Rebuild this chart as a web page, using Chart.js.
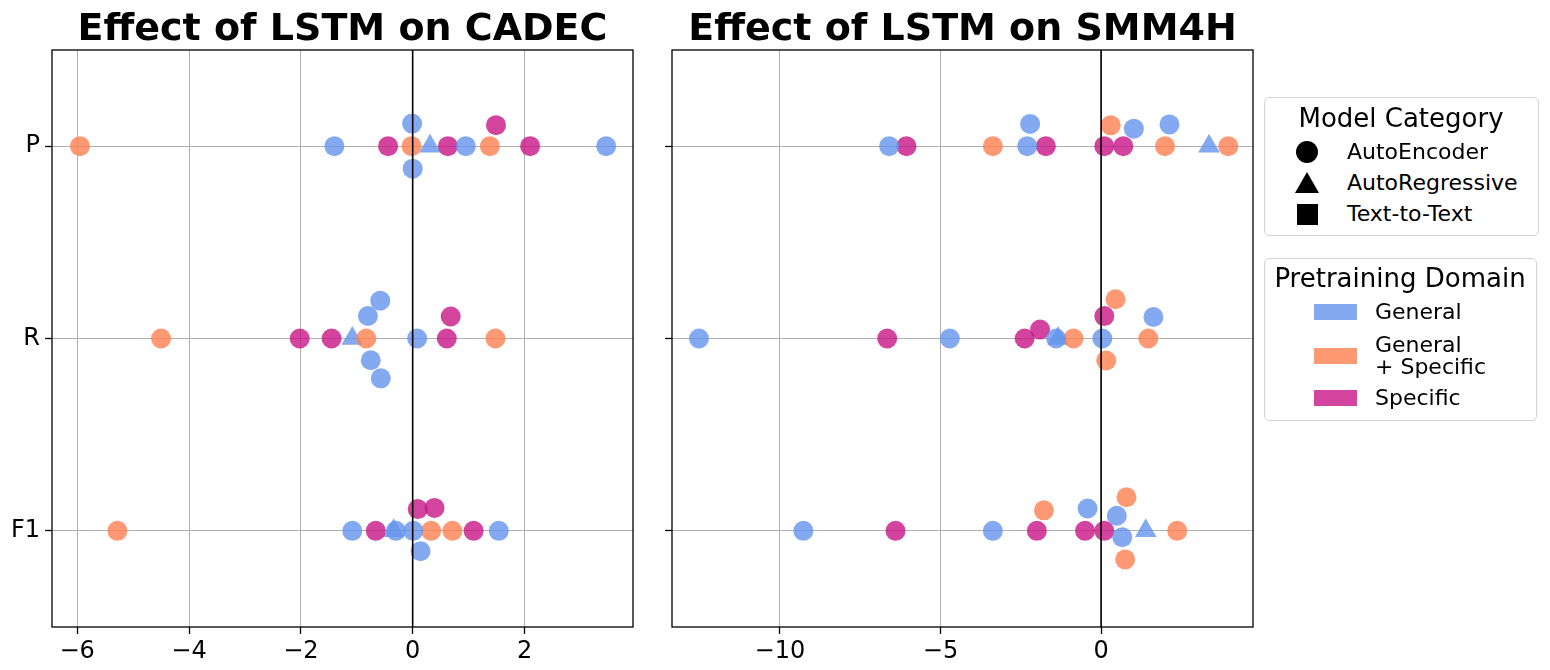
<!DOCTYPE html>
<html>
<head>
<meta charset="utf-8">
<script src="https://cdn.jsdelivr.net/npm/chart.js@4.4.1/dist/chart.umd.min.js"></script>
<style>
  body { margin: 0; background: #fff; font-family: 'DejaVu Sans', sans-serif; }
  #wrap { position: relative; width: 1550px; height: 670px; }
  canvas { position: absolute; top: 0; }
  .box { position: absolute; border: 1px solid #d5d5d5; border-radius: 5px; background: #fff; }
  .t { position: absolute; white-space: nowrap; color: #000; }
  .mk { position: absolute; background: #000; }
</style>
</head>
<body>
<div id="wrap">
  <canvas id="cadec" width="640" height="670" style="left:0px"></canvas>
  <canvas id="smm" width="620" height="670" style="left:640px"></canvas>
  <div id="legend"></div>
</div>
<script>
// rows of the categorical axis
const rows = ['P', 'R', 'F1'];
const domains = ['General', 'General\n+ Specific', 'Specific'];
const modelCats = ['AutoEncoder', 'AutoRegressive', 'Text-to-Text'];
const domainColors = ['rgba(100,149,237,0.8)', 'rgba(255,127,80,0.8)', 'rgba(199,21,133,0.8)'];

// CADEC, AutoEncoder models (one list per row: P, R, F1)
const cadecGeneral = [[-1.40, -0.01, 0.00, 0.95, 3.46], [-0.80, -0.75, -0.58, -0.57, 0.08], [-1.08, -0.30, 0.01, 0.14, 1.54]];
const cadecGenSpec = [[-5.95, -0.02, 1.38], [-4.50, -0.83, 1.48], [-5.28, 0.33, 0.71]];
const cadecSpecific = [[-0.44, 0.63, 1.49, 2.10], [-2.02, -1.45, 0.61, 0.68], [-0.66, 0.09, 0.39, 1.09]];
// CADEC, AutoRegressive (General)
const cadecAutoReg = [0.31, -1.08, -0.34];

// SMM4H, AutoEncoder models
const smmGeneral = [[-6.60, -2.30, -2.21, 1.02, 2.13], [-12.52, -4.71, -1.40, 0.04, 1.63], [-9.27, -3.37, -0.42, 0.49, 0.66]];
const smmGenSpec = [[-3.37, 0.30, 1.99, 3.96], [-0.86, 0.16, 0.45, 1.47], [-1.78, 0.75, 0.79, 2.37]];
const smmSpecific = [[-6.06, -1.72, 0.10, 0.69], [-6.66, -2.38, -1.90, 0.10], [-6.40, -2.00, -0.50, 0.10]];
const smmAutoReg = [3.36, -1.34, 1.39];

// axis ranges and ticks
const cadecRange = [-6.45, 3.94];
const smmRange = [-13.36, 4.73];
const cadecTicks = [-6, -4, -2, 0, 2];
const smmTicks = [-10, -5, 0];
const yRange = [-0.5, 2.5];

const AREA_W = 581, AREA_H = 577;
const DIAM = 21.5;     // collision distance of the swarm, px
const STRETCH = 1.28;  // x spacing used when the swarm was laid out

// seaborn-like beeswarm, returns vertical offsets in px
function beeswarm(vals, pxPerUnit) {
  const pts = vals.map((p) => Object.assign({}, p, { px: p.v * pxPerUnit * STRETCH }));
  pts.sort((a, b) => a.px - b.px);
  const placed = [];
  for (const p of pts) {
    const nb = [];
    for (let j = placed.length - 1; j >= 0; j--) {
      if (p.px - placed[j].px < DIAM) nb.unshift(placed[j]); else break;
    }
    const cand = [0];
    let upFirst = true;
    for (const q of nb) {
      const dx = p.px - q.px;
      const d = Math.sqrt(Math.max(DIAM * DIAM - dx * dx, 0)) * 1.05;
      if (upFirst) cand.push(q.off - d, q.off + d); else cand.push(q.off + d, q.off - d);
      upFirst = !upFirst;
    }
    const order = cand.map((c, k) => [c, k]).sort((a, b) => Math.abs(a[0]) - Math.abs(b[0]) || a[1] - b[1]);
    p.off = order[0][0];
    for (const [c] of order) {
      if (nb.every(q => (q.px - p.px) ** 2 + (q.off - c) ** 2 >= DIAM * DIAM - 1e-6)) { p.off = c; break; }
    }
    placed.push(p);
  }
  return pts;
}

function buildDatasets(byDomain, autoReg, range) {
  const pxPerUnit = AREA_W / (range[1] - range[0]);
  const pxPerRow = AREA_H / (yRange[1] - yRange[0]);
  const circles = domains.map(() => []);
  const tris = [];
  rows.forEach((r, ri) => {
    let vals = [];
    byDomain.forEach((lists, di) => lists[ri].forEach(v => vals.push({ v: v, d: di })));
    beeswarm(vals, pxPerUnit).forEach(p => circles[p.d].push({ x: p.v, y: ri + p.off / pxPerRow }));
    beeswarm([{ v: autoReg[ri], d: 0 }], pxPerUnit).forEach(p => tris.push({ x: p.v, y: ri + p.off / pxPerRow }));
  });
  const sets = circles.map((data, di) => ({
    label: domains[di], data: data, pointStyle: 'circle', pointRadius: 10, pointHoverRadius: 10,
    backgroundColor: domainColors[di], borderWidth: 0
  }));
  sets.push({
    label: modelCats[1], data: tris, pointStyle: 'triangle', pointRadius: 12.5, pointHoverRadius: 12.5,
    backgroundColor: domainColors[0], borderWidth: 0
  });
  sets.push({
    label: 'zero', data: [{ x: 0, y: yRange[0] }, { x: 0, y: yRange[1] }], showLine: true,
    borderColor: '#000', borderWidth: 1.6, pointRadius: 0, order: -1
  });
  return sets;
}

const frame = {
  id: 'frame',
  afterDraw(chart, args, opts) {
    const a = chart.chartArea, ctx = chart.ctx;
    ctx.save();
    ctx.strokeStyle = '#000';
    ctx.lineWidth = 1.3;
    ctx.strokeRect(a.left, a.top, a.right - a.left, a.bottom - a.top);
    ctx.font = 'bold 38px "DejaVu Sans"';
    ctx.fillStyle = '#000';
    ctx.textAlign = 'center';
    ctx.textBaseline = 'alphabetic';
    ctx.fillText(opts.text, (a.left + a.right) / 2, 39.5);
    ctx.restore();
  }
};

const minus = v => String(v).replace('-', '\u2212');

function makeChart(id, sets, range, ticks, title, yWidth, showRowLabels) {
  return new Chart(document.getElementById(id), {
    type: 'scatter',
    data: { datasets: sets },
    plugins: [frame],
    options: {
      responsive: false,
      animation: false,
      layout: { autoPadding: false, padding: { top: 50, right: 7, left: 0, bottom: 0 } },
      plugins: { legend: { display: false }, tooltip: { enabled: false }, frame: { text: title } },
      scales: {
        x: {
          type: 'linear', min: range[0], max: range[1],
          afterBuildTicks: s => { s.ticks = ticks.map(v => ({ value: v })); },
          afterFit: s => { s.height = 43; s.paddingLeft = 0; s.paddingRight = 0; },
          border: { display: false },
          grid: { color: '#b0b0b0', lineWidth: 1, tickColor: '#000', tickLength: 7, tickWidth: 1.3 },
          ticks: { color: '#000', font: { family: 'DejaVu Sans', size: 24 }, padding: 3, maxRotation: 0, callback: v => minus(v) }
        },
        y: {
          type: 'linear', min: yRange[0], max: yRange[1], reverse: true,
          afterBuildTicks: s => { s.ticks = rows.map((r, i) => ({ value: i })); },
          afterFit: s => { s.width = yWidth; },
          border: { display: false },
          grid: { color: '#b0b0b0', lineWidth: 1, tickColor: '#000', tickLength: 7, tickWidth: 1.3 },
          ticks: { display: showRowLabels, color: '#000', font: { family: 'DejaVu Sans', size: 24 }, padding: 5, callback: v => rows[v] }
        }
      }
    }
  });
}

makeChart('cadec', buildDatasets([cadecGeneral, cadecGenSpec, cadecSpecific], cadecAutoReg, cadecRange), cadecRange, cadecTicks, 'Effect of LSTM on CADEC', 52, true);
makeChart('smm', buildDatasets([smmGeneral, smmGenSpec, smmSpecific], smmAutoReg, smmRange), smmRange, smmTicks, 'Effect of LSTM on SMM4H', 32, false);

// legend panels
const lg = document.getElementById('legend');
function add(html) { lg.insertAdjacentHTML('beforeend', html); }
function text(str, left, cy, size, lh, center) {
  const lines = str.split('\n');
  const top = cy - lh * lines.length / 2;
  const pos = center ? 'left:' + (left - 200) + 'px;width:400px;text-align:center;' : 'left:' + left + 'px;';
  add('<div class="t" style="' + pos + 'top:' + top + 'px;font-size:' + size + 'px;line-height:' + lh + 'px">' + lines.join('<br>') + '</div>');
}
add('<div class="box" style="left:1264px;top:97px;width:273px;height:137px"></div>');
text('Model Category', 1401, 118, 26, 30, true);
const catRowsY = [152, 183, 214];
add('<div class="mk" style="left:1296px;top:' + (catRowsY[0] - 11) + 'px;width:22px;height:22px;border-radius:50%"></div>');
add('<div class="mk" style="left:1295px;top:' + (catRowsY[1] - 11) + 'px;width:0;height:0;background:none;border-left:12px solid transparent;border-right:12px solid transparent;border-bottom:21px solid #000"></div>');
add('<div class="mk" style="left:1297px;top:' + (catRowsY[2] - 10) + 'px;width:21px;height:21px"></div>');
modelCats.forEach((c, i) => text(c, 1347, catRowsY[i], 22, 26, false));

add('<div class="box" style="left:1264px;top:258px;width:271px;height:161px"></div>');
text('Pretraining Domain', 1400, 278, 26, 30, true);
const domRowsY = [312, 356, 398];
domains.forEach((d, i) => {
  add('<div class="mk" style="left:1314px;top:' + (domRowsY[i] - 8) + 'px;width:43px;height:16px;background:' + domainColors[i] + '"></div>');
  text(d, 1375, domRowsY[i], 22, 22, false);
});
</script>
</body>
</html>
